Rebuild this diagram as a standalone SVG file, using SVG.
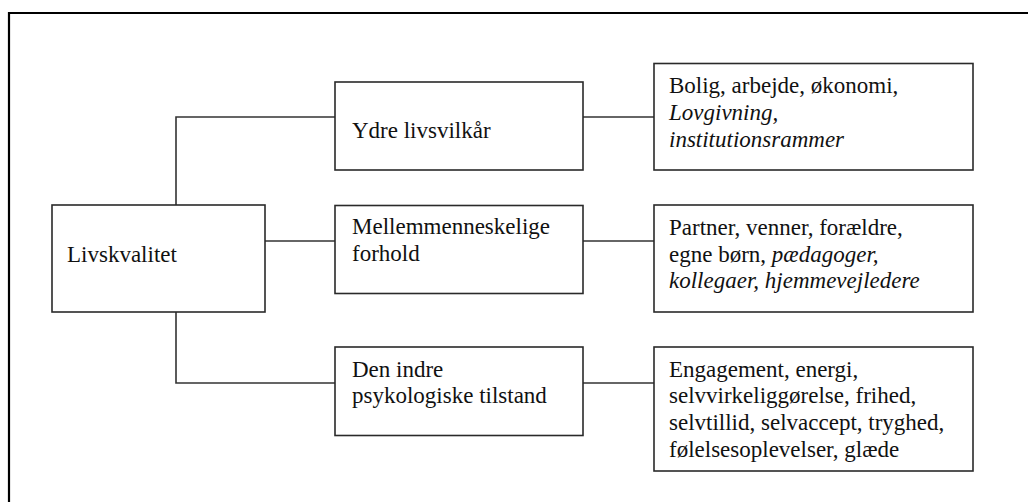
<svg xmlns="http://www.w3.org/2000/svg" width="1028" height="502" viewBox="0 0 1028 502">
<style>
.box{fill:#fff;stroke:#2a2a2a;stroke-width:1.6}
.ln{fill:none;stroke:#333;stroke-width:1.6}
.t{font-family:'Liberation Serif','Times New Roman',serif;font-size:23px;fill:#111}
.i{font-style:italic}
</style>
<rect width="1028" height="502" fill="#fff"/>
<path d="M9 502 V13 H1028" fill="none" stroke="#000" stroke-width="2.2"/>
<g id="connectors">
<path class="ln" d="M176 205 V117 H335"/>
<path class="ln" d="M583 117 H654"/>
<path class="ln" d="M265 241 H335"/>
<path class="ln" d="M583 241 H654"/>
<path class="ln" d="M176 312 V383 H335"/>
<path class="ln" d="M583 383 H654"/>
</g>
<g id="livskvalitet">
<rect class="box" x="52" y="205" width="213" height="107"/>
<text class="t" x="67" y="262">Livskvalitet</text>
</g>
<g id="ydre">
<rect class="box" x="335" y="82" width="248" height="88"/>
<text class="t" x="352" y="138.3">Ydre livsvilkår</text>
</g>
<g id="mellem">
<rect class="box" x="335" y="205.5" width="248" height="88"/>
<text class="t" x="352" y="234">Mellemmenneskelige</text>
<text class="t" x="352" y="260.7">forhold</text>
</g>
<g id="indre">
<rect class="box" x="335" y="347" width="248" height="88.5"/>
<text class="t" x="352" y="376.7">Den indre</text>
<text class="t" x="352" y="403.3">psykologiske tilstand</text>
</g>
<g id="bolig">
<rect class="box" x="654" y="63.5" width="319" height="106.5"/>
<text class="t" x="669" y="93.3">Bolig, arbejde, økonomi,</text>
<text class="t i" x="669" y="120">Lovgivning,</text>
<text class="t i" x="669" y="146.7">institutionsrammer</text>
</g>
<g id="partner">
<rect class="box" x="654" y="205" width="319" height="107"/>
<text class="t" x="669" y="235">Partner, venner, forældre,</text>
<text class="t" x="669" y="261.7">egne børn, <tspan class="i">pædagoger,</tspan></text>
<text class="t i" x="669" y="288.3">kollegaer, hjemmevejledere</text>
</g>
<g id="engagement">
<rect class="box" x="654" y="347" width="319" height="124"/>
<text class="t" x="669" y="376.7">Engagement, energi,</text>
<text class="t" x="669" y="403.3">selvvirkeliggørelse, frihed,</text>
<text class="t" x="669" y="430">selvtillid, selvaccept, tryghed,</text>
<text class="t" x="669" y="456.7">følelsesoplevelser, glæde</text>
</g>
</svg>
